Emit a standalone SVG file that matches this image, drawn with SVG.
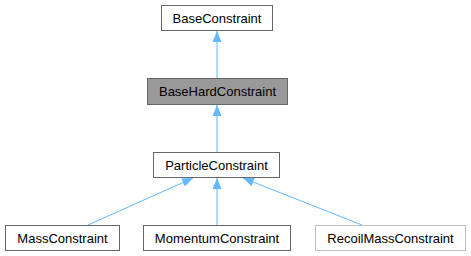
<svg xmlns="http://www.w3.org/2000/svg" width="471" height="256" viewBox="0 0 471 256">
<style>
.box{fill:#ffffff;stroke:#666666;stroke-width:1}
.hl{fill:#999999;stroke:#666666;stroke-width:1}
.lt{fill:#ffffff;stroke:#bfbfbf;stroke-width:1}
.lbl{font-family:"Liberation Sans",Arial,sans-serif;font-size:13px;fill:#000000;text-anchor:middle}
.edge{stroke:#63b8ff;stroke-width:1;fill:none}
</style>
<defs>
<marker id="arr" markerUnits="userSpaceOnUse" viewBox="0 0 11 9" refX="11" refY="4.5" markerWidth="11" markerHeight="9" orient="auto">
<polygon points="0,0 11,4.5 0,9" fill="#63b8ff"/>
</marker>
</defs>
<rect width="471" height="256" fill="#ffffff"/>
<g id="edges">
<path class="edge" d="M217,78 L217,31" marker-end="url(#arr)"/>
<path class="edge" d="M217,152 L217,105" marker-end="url(#arr)"/>
<path class="edge" d="M88,225 L193,178" marker-end="url(#arr)"/>
<path class="edge" d="M217,225 L217,178" marker-end="url(#arr)"/>
<path class="edge" d="M362,225 L243,178" marker-end="url(#arr)"/>
</g>
<g id="node-BaseConstraint">
<rect class="box" x="161.5" y="5.5" width="111" height="25"/>
<text class="lbl" x="217" y="22.5">BaseConstraint</text>
</g>
<g id="node-BaseHardConstraint">
<rect class="hl" x="147.5" y="78.5" width="140" height="26"/>
<text class="lbl" x="217.5" y="96">BaseHardConstraint</text>
</g>
<g id="node-ParticleConstraint">
<rect class="box" x="153.5" y="152.5" width="126" height="25"/>
<text class="lbl" x="216.5" y="169.5">ParticleConstraint</text>
</g>
<g id="node-MassConstraint">
<rect class="box" x="5.5" y="225.5" width="114" height="25"/>
<text class="lbl" x="62.5" y="242.5">MassConstraint</text>
</g>
<g id="node-MomentumConstraint">
<rect class="box" x="143.5" y="225.5" width="147" height="25"/>
<text class="lbl" x="217" y="242.5">MomentumConstraint</text>
</g>
<g id="node-RecoilMassConstraint">
<rect class="lt" x="315.5" y="225.5" width="150" height="25"/>
<text class="lbl" x="390.5" y="242.5">RecoilMassConstraint</text>
</g>
</svg>
